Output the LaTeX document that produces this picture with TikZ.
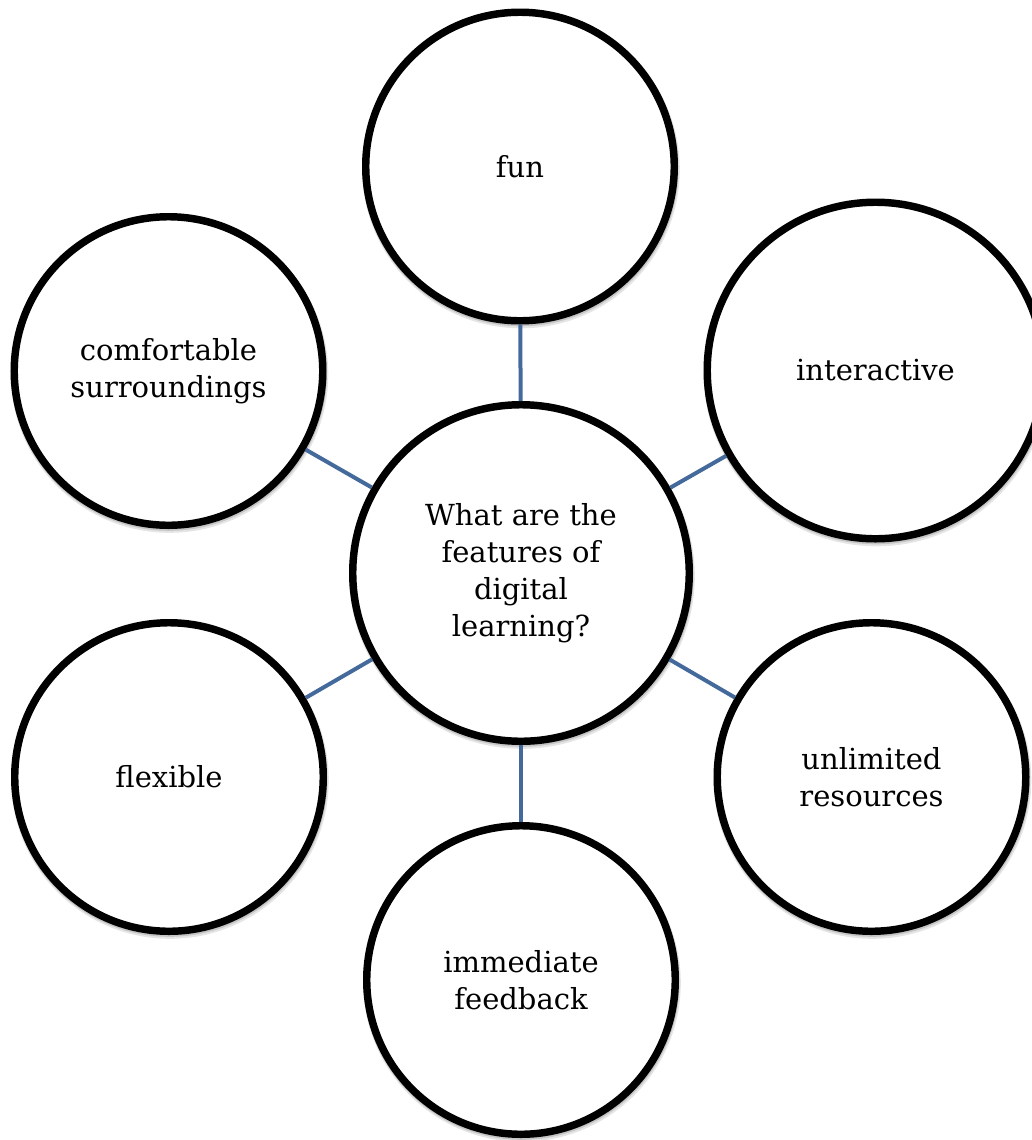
\documentclass[tikz,border=0pt]{standalone}
\usepackage{fontspec}
\setmainfont{DejaVu Serif}
\usetikzlibrary{backgrounds}
\definecolor{linkblue}{RGB}{68,106,155}
\newcommand{\bubblefont}{\fontsize{21.75pt}{27.75pt}\selectfont}
\begin{document}
\begin{tikzpicture}[x=0.75pt,y=-0.75pt,
  bubble/.style={circle, draw=black, fill=white, line width=5.6pt,
    minimum size=231.4pt, inner sep=0pt, align=center, font=\bubblefont},
  bigbubble/.style={bubble, minimum size=252.4pt},
  link/.style={draw=linkblue, line width=3pt},
  soft/.style={fill=black, opacity=#1}]
\useasboundingbox (0,0) rectangle (1032,1140);

% hub and the six feature bubbles
\node[bigbubble] (hub) at (521,573) {What are the\\features of\\digital\\learning?};
\node[bubble]    (fun) at (520,166.5) {fun};
\node[bigbubble] (inter) at (875.5,370.5) {interactive};
\node[bubble]    (unlim) at (871.5,777) {unlimited\\resources};
\node[bubble]    (feed) at (521,980) {immediate\\feedback};
\node[bubble]    (flex) at (169,777) {flexible};
\node[bubble]    (comf) at (168.5,371) {comfortable\\surroundings};

% soft shadow under every bubble
\begin{scope}[on background layer]
  \foreach \n/\r in {hub/172, inter/172, fun/158, unlim/158, feed/158, flex/158, comf/158}{
    \fill[soft=0.10] ([shift={(1,3)}]\n.center) circle[radius=\r*0.75pt+0.6pt];
    \fill[soft=0.14] ([shift={(0.5,1.8)}]\n.center) circle[radius=\r*0.75pt];
  }
\end{scope}

% spokes
\draw[link] (hub) -- (fun);
\draw[link] (hub) -- (inter);
\draw[link] (hub) -- (unlim);
\draw[link] (hub) -- (feed);
\draw[link] (hub) -- (flex);
\draw[link] (hub) -- (comf);
\end{tikzpicture}
\end{document}
